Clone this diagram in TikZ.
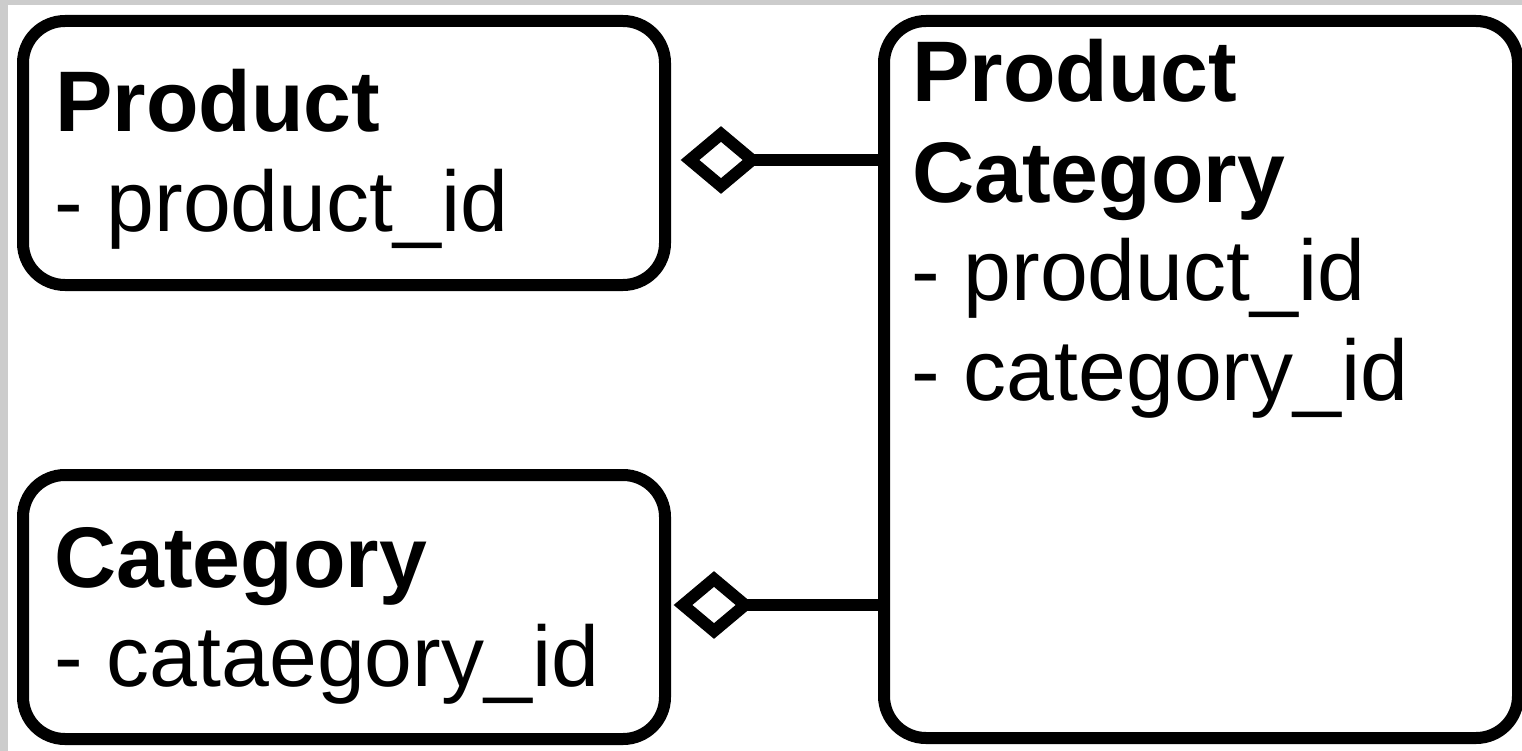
\documentclass[tikz,border=0pt]{standalone}
\usepackage{fontspec}
\setmainfont{Liberation Sans}
\usetikzlibrary{shapes.geometric}

\definecolor{framegray}{RGB}{204,204,204}

\tikzset{
  entity/.style={draw=black, fill=white, line width=12pt, rounded corners=42pt,
    rectangle, inner sep=0pt, outer sep=0pt},
  title/.style={anchor=base west, inner sep=0pt, font=\fontsize{86pt}{100pt}\selectfont\bfseries},
  field/.style={anchor=base west, inner sep=0pt, font=\fontsize{86pt}{100pt}\selectfont},
  agg/.style={diamond, draw=black, fill=white, line width=12pt, inner sep=0pt,
    outer sep=0pt, minimum width=62pt, minimum height=52pt},
  link/.style={draw=black, line width=12pt}
}

\begin{document}
\begin{tikzpicture}[x=1pt, y=-1pt]
  % canvas with thin gray edge at top and left
  \fill[framegray] (0,0) rectangle (1522,751);
  \fill[white] (8,5) rectangle (1522,751);
  \useasboundingbox (0,0) rectangle (1522,751);

  % entity boxes
  \node[entity, minimum width=642pt, minimum height=264pt] (product) at (344,153) {};
  \node[entity, minimum width=642pt, minimum height=264pt] (category) at (344,607) {};
  \node[entity, minimum width=634pt, minimum height=717pt] (prodcat) at (1201,379.5) {};

  % entity texts
  \node[title] (productTitle) at (55,132) {Product};
  \node[field] (productId) at (54,232) {- product\_id};

  \node[title] (categoryTitle) at (54,587) {Category};
  \node[field] (categoryId) at (54,686) {- cataegory\_id};

  \node[title] (pcTitleA) at (912,102) {Product};
  \node[title] (pcTitleB) at (912,203) {Category};
  \node[field] (pcProduct) at (911,300) {- product\_id};
  \node[field] (pcCategory) at (911,400) {- category\_id};

  % aggregation connectors
  \node[agg] (aggProduct) at (721,160) {};
  \node[agg] (aggCategory) at (714,605) {};
  \draw[link] (aggProduct.east) -- (aggProduct.east -| prodcat.west);
  \draw[link] (aggCategory.east) -- (aggCategory.east -| prodcat.west);
\end{tikzpicture}
\end{document}
